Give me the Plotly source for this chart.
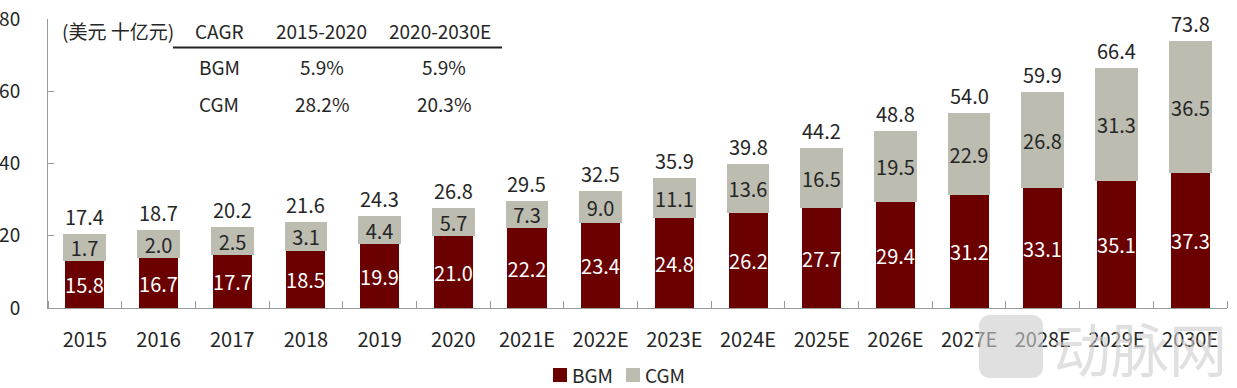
import plotly.graph_objects as go

# ---- data ----
years = ["2015", "2016", "2017", "2018", "2019", "2020", "2021E", "2022E",
         "2023E", "2024E", "2025E", "2026E", "2027E", "2028E", "2029E", "2030E"]
# printed values
bgm_labels = [15.8, 16.7, 17.7, 18.5, 19.9, 21.0, 22.2, 23.4, 24.8, 26.2, 27.7, 29.4, 31.2, 33.1, 35.1, 37.3]
cgm_labels = [1.7, 2.0, 2.5, 3.1, 4.4, 5.7, 7.3, 9.0, 11.1, 13.6, 16.5, 19.5, 22.9, 26.8, 31.3, 36.5]
total_labels = [17.4, 18.7, 20.2, 21.6, 24.3, 26.8, 29.5, 32.5, 35.9, 39.8, 44.2, 48.8, 54.0, 59.9, 66.4, 73.8]
# segment heights as drawn in the picture
bgm_bar = [12.9, 13.8, 14.8, 15.9, 17.8, 19.8, 22.2, 23.4, 24.8, 26.2, 27.7, 29.4, 31.2, 33.1, 35.1, 37.3]
cgm_bar = [7.6, 7.9, 7.7, 7.8, 7.8, 8.0, 7.3, 9.0, 11.1, 13.6, 16.5, 19.5, 22.9, 26.8, 31.3, 36.5]

y_ticks = [0, 20, 40, 60, 80]
series_names = ["BGM", "CGM"]

unit_label = "(美元 十亿元)"
cagr_header = ["CAGR", "2015-2020", "2020-2030E"]
cagr_rows = ["BGM", "CGM"]
cagr_2015_2020 = ["5.9%", "28.2%"]
cagr_2020_2030 = ["5.9%", "20.3%"]
watermark = "动脉网"

FONT = "Noto Sans CJK SC, Noto Sans, sans-serif"
BGM_COLOR = "#6a0000"
CGM_COLOR = "#bcbcb0"
TXT = "#262626"
AX = "#9a9a9a"
WM = "rgba(205,205,205,0.62)"

W, H = 1237, 388
ML, MR, MT, MB = 48, 10, 19, 80
PW, PH = W - ML - MR, H - MT - MB


def px(x):
    return (x - ML) / PW


def py(y):
    return (H - MB - y) / PH


xpos = list(range(len(years)))
totals = [b + c for b, c in zip(bgm_bar, cgm_bar)]

fig = go.Figure()
fig.add_trace(go.Bar(
    x=xpos, y=bgm_bar, name=series_names[0], width=0.53,
    marker=dict(color=BGM_COLOR, line=dict(width=0)),
    text=[f"{v:.1f}" for v in bgm_labels], textposition="inside",
    insidetextanchor="middle", textangle=0,
    textfont=dict(color="white", size=20, family=FONT),
))
fig.add_trace(go.Bar(
    x=xpos, y=cgm_bar, name=series_names[1], width=0.58,
    marker=dict(color=CGM_COLOR, line=dict(width=0)),
    text=[f"{v:.1f}" for v in cgm_labels], textposition="inside",
    insidetextanchor="middle", textangle=0,
    textfont=dict(color=TXT, size=20, family=FONT),
))

ann = []
for i, t in enumerate(total_labels):
    ann.append(dict(x=xpos[i], y=totals[i], xref="x", yref="y", text=f"{t:.1f}",
                    showarrow=False, xanchor="center", yanchor="bottom", yshift=1,
                    font=dict(size=20, color=TXT, family=FONT)))
# CAGR table
tab = []
tab.append(dict(x=px(60), y=py(30), text=unit_label, xanchor="left"))
for t, cx in zip(cagr_header, [219, 321, 440]):
    tab.append(dict(x=px(cx), y=py(30), text=t, xanchor="center"))
for i, (r, cy) in enumerate(zip(cagr_rows, [66.7, 103])):
    tab.append(dict(x=px(219), y=py(cy), text=r, xanchor="center"))
    tab.append(dict(x=px(322), y=py(cy), text=cagr_2015_2020[i], xanchor="center"))
    tab.append(dict(x=px(444), y=py(cy), text=cagr_2020_2030[i], xanchor="center"))
for a in tab:
    a.update(xref="paper", yref="paper", yanchor="middle", showarrow=False,
             font=dict(size=19, color=TXT, family=FONT))
ann += tab

# legend (drawn by hand to match spacing)
shapes = [dict(type="line", xref="paper", yref="paper", x0=px(173), x1=px(502),
               y0=py(47.5), y1=py(47.5), line=dict(color="#222222", width=2))]
for name, col, sx in zip(series_names, [BGM_COLOR, CGM_COLOR], [553, 626]):
    shapes.append(dict(type="rect", xref="paper", yref="paper", x0=px(sx), x1=px(sx + 14),
                       y0=py(382), y1=py(368), fillcolor=col, line=dict(width=0)))
    ann.append(dict(x=px(sx + 18), y=py(374), xref="paper", yref="paper", text=name,
                    showarrow=False, xanchor="left", yanchor="middle", borderpad=0,
                    font=dict(size=19, color=TXT, family=FONT)))

# watermark (semi-transparent overlay, like the source image)
ann.append(dict(x=px(1140), y=py(347), xref="paper", yref="paper", text=watermark,
                showarrow=False, xanchor="center", yanchor="middle",
                font=dict(size=58, color=WM, family=FONT)))
x0, x1, y0, y1, r = px(979), px(1043), py(378), py(315), 12
rx, ry = r / PW, r / PH
path = (f"M {x0+rx},{y0} L {x1-rx},{y0} Q {x1},{y0} {x1},{y0+ry} L {x1},{y1-ry} "
        f"Q {x1},{y1} {x1-rx},{y1} L {x0+rx},{y1} Q {x0},{y1} {x0},{y1-ry} "
        f"L {x0},{y0+ry} Q {x0},{y0} {x0+rx},{y0} Z")
shapes.append(dict(type="path", xref="paper", yref="paper", path=path,
                   fillcolor=WM, line=dict(width=0), layer="above"))

fig.update_layout(
    width=W, height=H, barmode="stack", bargap=0,
    margin=dict(l=ML, r=MR, t=MT, b=MB, autoexpand=False),
    paper_bgcolor="white", plot_bgcolor="white",
    font=dict(family=FONT, size=20, color=TXT),
    uniformtext=dict(minsize=20, mode="show"),
    annotations=ann, shapes=shapes, showlegend=False,
)
fig.update_xaxes(
    range=[-0.5, 15.5], tickmode="array", tickvals=xpos, ticktext=years,
    showline=True, linecolor=AX, linewidth=1, ticks="",
    minor=dict(ticks="inside", ticklen=7, tickcolor=AX, tickmode="linear",
               tick0=-0.5, dtick=1, showgrid=False),
    tickfont=dict(size=20, color=TXT), ticklabelstandoff=14, showgrid=False,
    zeroline=False,
)
fig.update_yaxes(
    range=[0, 80], tickvals=y_ticks, showline=True, linecolor=AX, linewidth=1,
    ticks="inside", ticklen=6, tickcolor=AX, showgrid=False, zeroline=False,
    tickfont=dict(size=19, color=TXT), ticklabelstandoff=23,
)
fig.write_html("out.html", config={"displayModeBar": False},
               post_script="document.body.style.margin='0';")
